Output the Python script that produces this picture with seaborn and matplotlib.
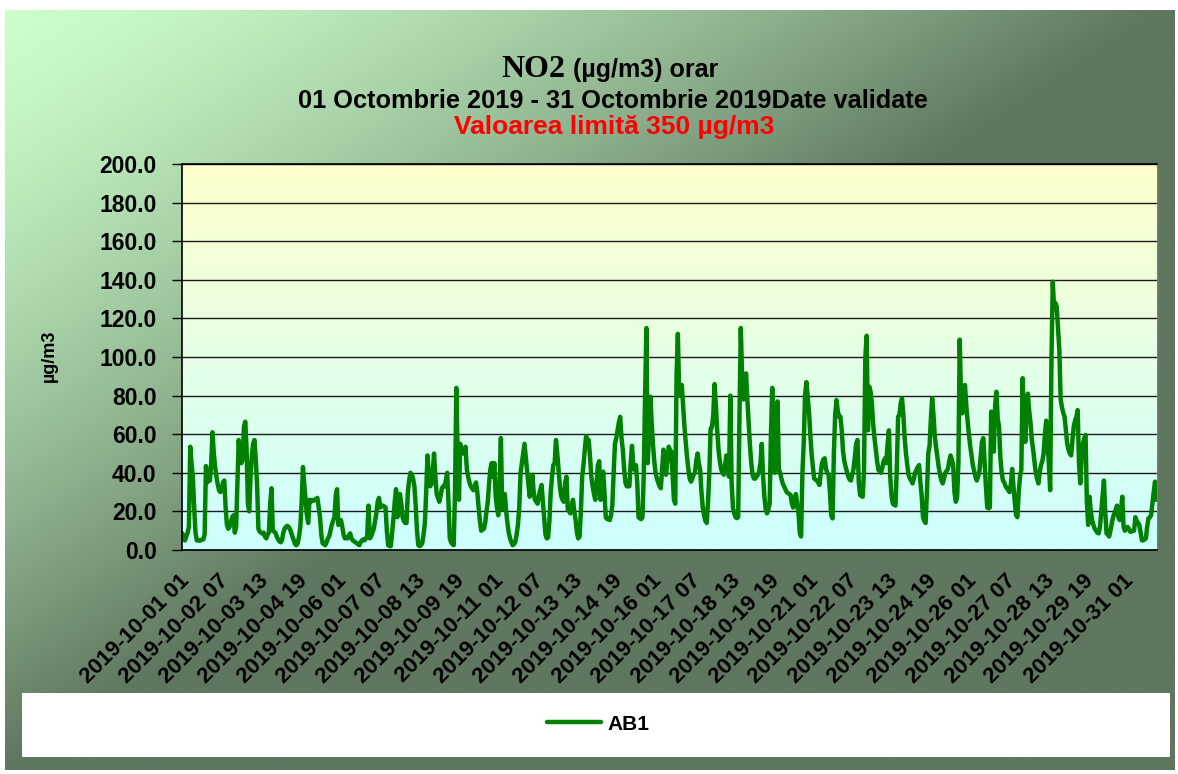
import numpy as np
import pandas as pd
import matplotlib
matplotlib.use("Agg")
import matplotlib.pyplot as plt
import matplotlib.transforms as mtransforms
from matplotlib.patches import Rectangle
import seaborn as sns

# hourly NO2 values, station AB1, 2019-10-01 01:00 .. 2019-11-01 00:00 (one row per day)
ab1 = [
    8.6, 6, 5, 7, 9, 12, 53.5, 45, 38, 22, 9, 5, 5.2, 4.8, 5, 5.3, 5.5, 8, 43.5, 35, 36.5, 36, 45, 61,
    50, 43, 38, 34, 31, 30, 31, 35, 36, 22, 13, 11, 12, 14.5, 17, 18, 9, 12, 34, 57, 47, 45, 47, 64,
    66.5, 52, 24, 20, 38, 49, 55, 57, 47, 34, 11, 9.5, 9, 8.5, 9, 7, 6, 8, 9, 24, 32, 10, 9.5, 9,
    7, 5.5, 4.5, 4, 5, 9, 11, 12, 12.5, 12, 11, 9, 7, 5, 3, 2.5, 3.5, 7, 12, 25, 43, 34, 26, 18,
    14, 26, 25, 26, 25.5, 26, 26.5, 27, 22, 17, 8, 3.5, 3, 2.5, 4, 6, 7, 10, 13, 15, 17, 28, 31.5, 13,
    14, 15.5, 12, 8, 6, 6.5, 6, 7.5, 8.6, 6, 5, 4.5, 4, 3.5, 3, 2.5, 4, 5, 5.5, 5, 6, 7, 23, 6,
    7, 9, 11, 15, 19, 25, 27, 22, 23, 23, 22.5, 22, 10, 2.5, 2, 2, 9, 16, 25, 31.5, 17, 22, 29, 24,
    17, 15, 14, 14, 30, 36, 40, 39, 37, 33, 23, 10, 2.5, 2, 2.5, 3.5, 8, 14, 30, 49, 40, 33, 34, 40,
    50, 38, 29, 27, 25, 28, 32, 33, 33, 36, 40, 25, 6, 4, 3, 2.5, 30, 84, 50, 26, 55, 50, 52, 50,
    53.5, 42, 38, 35, 33, 32, 31, 33, 35, 30, 22, 15, 10, 10.5, 11, 14, 20, 25, 34.5, 42, 45, 38, 45, 28,
    22, 18, 35, 58, 21, 25, 29, 20, 14, 9, 6, 4, 2.5, 3, 4.3, 8, 13, 22, 40, 45, 50, 55, 48, 41,
    34, 27.6, 33, 39, 30, 26, 25, 24, 28, 31, 33.7, 25, 16, 8, 6, 6.5, 15, 30, 38, 44, 45, 57, 50, 41.5,
    33, 28, 26, 25, 35, 38, 21, 20, 19, 23, 26, 20, 15.5, 9, 6, 7, 20, 38, 44, 52, 59, 56, 57, 48,
    38, 33, 29, 26, 35, 44, 46, 26, 32, 40.6, 30, 17, 16, 16.5, 15.5, 18, 23, 40, 55, 58, 62, 66, 69, 58,
    52, 42, 35, 33, 33, 33, 45, 54, 44, 41.5, 44, 35, 17, 16.4, 16, 17, 40, 80, 115, 45, 60, 79.4, 66, 55,
    46, 40, 37, 35, 33, 32, 42, 52, 45, 39, 46, 53.5, 52, 51, 38, 26, 24, 90, 112, 80, 82, 85.5, 75, 64,
    56, 48, 42, 37, 35.4, 37, 39, 40, 46, 50, 45, 41.5, 30, 22, 18, 15, 14, 25, 40, 63, 63.5, 70, 86, 75,
    62, 52, 46, 42, 40, 39, 44, 49, 42, 38, 80, 35, 22, 19, 17, 16.5, 17, 70, 115, 90, 78, 85, 91.5, 78,
    66, 54, 45, 39, 37, 37, 38, 39, 40.6, 45, 55, 38, 27.6, 21, 19, 21, 24, 60, 84, 55, 40, 60, 77, 42,
    40, 37, 34.5, 33, 31.5, 30, 29.5, 29, 28.5, 24, 22, 26, 29, 24, 19, 9, 7, 40, 55, 80, 87, 80, 72, 60,
    50, 43, 37, 36.5, 36, 35, 33.7, 40, 45, 47, 47.5, 42, 40, 39, 30, 18, 16.4, 50, 70, 77.7, 72, 69, 69, 62,
    51, 46, 43, 40.6, 38, 36.5, 36, 39, 42, 48, 55, 57, 35, 28.5, 28, 27.6, 41.5, 100, 111, 62, 84.6, 82, 76, 65,
    58, 52, 46, 41.5, 41, 40, 43, 46, 47.5, 45, 55, 62, 38, 28, 24, 23.5, 23, 42, 69, 70, 76, 78.6, 70, 58,
    50, 44, 39, 37, 36, 34.5, 37, 40, 41.5, 43, 44, 35, 28, 17, 15, 14, 30, 50, 54, 68, 78.6, 70, 59, 53,
    48, 43, 39, 36, 34.5, 37, 40, 41, 42, 46, 49, 47, 44, 30, 25, 27, 45, 109, 80, 70.8, 78, 85.5, 75, 67,
    60, 54, 49, 44, 41, 38, 36, 38, 40.6, 48, 56, 58, 45, 33, 22, 21.6, 22, 71.7, 60, 51, 75, 82, 68, 64,
    48, 40, 36, 35, 33, 32, 31, 30, 34, 42, 33, 25, 18, 17, 30, 38, 41.5, 89, 65, 56, 72, 81, 72, 66,
    57, 52, 46, 40, 37, 34.5, 40, 44, 46, 50, 60, 67, 55, 45, 31, 100, 139, 125, 128, 126, 115, 103.6, 78, 74,
    71, 69, 62, 55, 52, 50, 49, 57, 64, 67, 69, 72.5, 45, 34.5, 48, 55, 58, 59.6, 25, 13, 27.6, 20, 15.5, 13,
    11, 10, 9, 8.6, 12, 20, 28, 36, 20, 8.6, 8, 7, 10, 14, 17, 19, 21, 23, 17, 15.5, 20, 27.6, 12, 10,
    11, 12, 11, 9.5, 9.5, 10, 10, 17, 15, 14, 13, 9, 5, 5, 5.5, 6, 12, 16.4, 17, 18, 24, 30, 35.4, 26,
]
start_hour = "2019-10-01 01:00"
tick_step = 30
y_ticks = [0, 20, 40, 60, 80, 100, 120, 140, 160, 180, 200]

title_main = "NO2"
title_unit = "(µg/m3) orar"
title_period = "01 Octombrie 2019 - 31 Octombrie 2019Date validate"
title_limit = "Valoarea limită 350 µg/m3"
y_label = "µg/m3"
series_name = "AB1"

W, H = 1178, 774


def fx(x):
    return x / W


def fy(y):
    return 1 - y / H


times = pd.date_range(start_hour, periods=len(ab1), freq="h")
df = pd.DataFrame({"hour": np.arange(len(ab1)), series_name: ab1})
tick_pos = list(range(0, len(ab1), tick_step))
tick_labels = [times[i].strftime("%Y-%m-%d %H") for i in tick_pos]

sns.set_style("ticks")
plt.rcParams["font.family"] = ["Liberation Sans", "DejaVu Sans"]
plt.rcParams["font.weight"] = "bold"
plt.rcParams["text.color"] = "black"
plt.rcParams["xtick.color"] = "black"
plt.rcParams["ytick.color"] = "black"
plt.rcParams["axes.labelcolor"] = "black"

fig = plt.figure(figsize=(W / 100, H / 100), dpi=100, facecolor="white")

# outer gradient panel, drawn in pixel coordinates
bg = fig.add_axes([0, 0, 1, 1], zorder=-10)
bg.set_xlim(0, W)
bg.set_ylim(H, 0)
bg.set_axis_off()
light = np.array([204, 255, 204]) / 255
dark = np.array([95, 118, 95]) / 255
gx, gy = np.meshgrid(np.linspace(5, 1175, 400), np.linspace(10, 770, 300))
t = np.clip(gx / W + gy / H, 0, 1) ** 1.4
t = t[..., None]
bg.imshow(light * (1 - t) + dark * t, extent=(5, 1175, 770, 10), aspect="auto",
          interpolation="bilinear")
bg.add_patch(Rectangle((22, 693), 1148, 64, facecolor="white", edgecolor="none"))

# plot area
ax = fig.add_axes([fx(181.7), fy(550), fx(1157) - fx(181.7), fy(164) - fy(550)])
top = np.array([255, 255, 204]) / 255
bottom = np.array([204, 255, 255]) / 255
v = np.linspace(0, 1, 200)[:, None, None]
ax.imshow(top * (1 - v) + bottom * v, extent=(-0.5, len(ab1) - 0.5, 0, 200),
          aspect="auto", zorder=0, interpolation="bilinear")

sns.lineplot(data=df, x="hour", y=series_name, ax=ax, color="#008000",
             linewidth=3.2, label=series_name)

ax.set_xlim(-0.5, len(ab1) - 0.5)
ax.set_ylim(0, 200)
ax.set_yticks(y_ticks)
ax.set_yticklabels([f"{v:.1f}" for v in y_ticks], fontsize=16.5, fontweight="bold")
ax.set_xticks(tick_pos)
ax.set_xticklabels(tick_labels, rotation=45, ha="right", va="center",
                   rotation_mode="anchor", fontsize=16, fontweight="bold")
ax.tick_params(axis="x", length=0, pad=0)
ax.tick_params(axis="y", length=7, width=1, pad=11, color="black")
shift = mtransforms.ScaledTranslation(4 / 100, -28 / 100, fig.dpi_scale_trans)
for lab in ax.get_xticklabels():
    lab.set_transform(lab.get_transform() + shift)
ax.set_xlabel("")
ax.set_ylabel("")
ax.set_axisbelow(True)
ax.grid(axis="y", color="#1a1a1a", linewidth=1)
ax.grid(axis="x", visible=False)
for side in ["left", "bottom", "top"]:
    ax.spines[side].set_color("black")
    ax.spines[side].set_linewidth(1.2)
ax.spines["right"].set_color("#808080")
ax.spines["right"].set_linewidth(0.8)

fig.text(fx(49), fy(356), y_label, rotation=90, fontsize=13, fontweight="bold",
         ha="center", va="center")

# titles
fig.text(fx(565), fy(77.3), title_main, fontsize=23, fontweight="bold",
         family=["Liberation Serif", "DejaVu Serif"], ha="right", va="baseline")
fig.text(fx(573), fy(77.3), title_unit, fontsize=18, fontweight="bold",
         ha="left", va="baseline")
fig.text(fx(613), fy(108.3), title_period, fontsize=18.3, fontweight="bold",
         ha="center", va="baseline")
fig.text(fx(614), fy(134), title_limit, fontsize=19, fontweight="bold",
         color="#FF0000", ha="center", va="baseline")

handles, labels = ax.get_legend_handles_labels()
ax.get_legend().remove()
fig.legend(handles, labels, loc="center", bbox_to_anchor=(fx(598), fy(724)),
           frameon=False, prop={"size": 15, "weight": "bold"},
           handlelength=2.6, handletextpad=0.3)

fig.savefig("out.png", dpi=100, facecolor="white")
